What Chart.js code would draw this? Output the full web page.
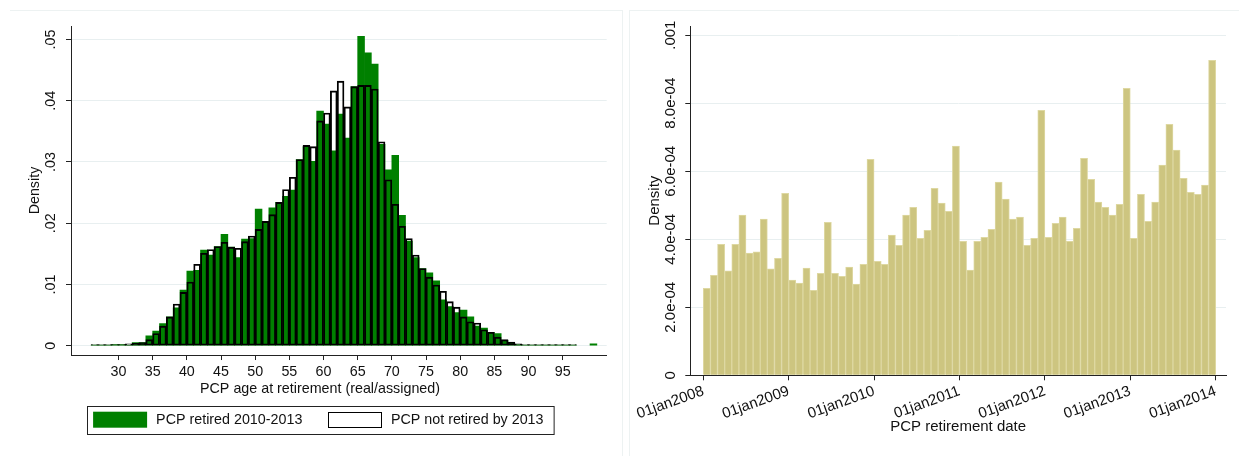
<!DOCTYPE html>
<html>
<head>
<meta charset="utf-8">
<title>PCP retirement histograms</title>
<script src="https://cdn.jsdelivr.net/npm/chart.js@4.4.1/dist/chart.umd.min.js"></script>
<style>
  html, body { margin: 0; padding: 0; background: #fff; }
  #page  { position: relative; width: 1239px; height: 456px; overflow: hidden; }
  .frame { position: absolute; border: 0 solid #edf2f2; }
  #frameL { left: 10px;  top: 10px; width: 612px; height: 460px; border-top-width: 1px; border-right-width: 1px; }
  #frameR { left: 629px; top: 10px; width: 640px; height: 460px; border-top-width: 1px; border-left-width: 1px; }
  .panel { position: absolute; top: 0; height: 456px; }
  #leftPanel  { left: 0;     width: 640px; }
  #rightPanel { left: 622px; width: 617px; }
</style>
</head>
<body>
<div id="page">
  <div class="frame" id="frameL"></div>
  <div class="frame" id="frameR"></div>
  <div class="panel" id="leftPanel"><canvas id="ageChart"></canvas></div>
  <div class="panel" id="rightPanel"><canvas id="dateChart"></canvas></div>
</div>
<script>
/* ---------------- DATA : left panel (age at retirement, 1-year bins) ---------------- */
const ageBins = [26,27,28,29,30,31,32,33,34,35,36,37,38,39,40,41,42,43,44,45,46,47,48,49,
                 50,51,52,53,54,55,56,57,58,59,60,61,62,63,64,65,66,67,68,69,70,71,72,73,
                 74,75,76,77,78,79,80,81,82,83,84,85,86,87,88,89,90,91,92,93,94,95,96,97,98,99];

// PCP retired 2010-2013 (green)
const retiredDensity = [
  .0001,.0001,.0001,.0002,.0002,.0001,.0005,.0005,.0016,.0024,.0036,.0047,.0062,.0091,
  .0122,.0123,.0156,.0148,.0162,.0182,.0161,.0144,.0174,.0175,.0223,.0203,.0225,.0234,
  .0244,.0254,.0304,.0325,.0301,.0383,.0362,.0318,.0378,.0339,.0423,.0505,.0478,.0460,
  .0329,.0287,.0311,.0213,.0171,.0144,.0126,.0119,.0106,.0075,.0064,.0054,.0058,.0047,
  .0032,.0029,.0022,.0020,.0009,.0004,.0002,.0001,.0001,.0001,.0001,.0001,.0001,.0001,
  .0001,null,null,.0003];

// PCP not retired by 2013 (outline only)
const notRetiredDensity = [
  .0002,.0002,.0002,.0002,.0002,.0003,.0004,.0005,.0010,.0020,.0032,.0047,.0068,.0087,
  .0104,.0133,.0151,.0157,.0162,.0169,.0161,.0159,.0170,.0179,.0190,.0203,.0214,.0234,
  .0255,.0275,.0304,.0327,.0325,.0367,.0380,.0416,.0432,.0390,.0423,.0425,.0425,.0419,
  .0333,.0271,.0231,.0195,.0175,.0148,.0126,.0112,.0099,.0089,.0072,.0063,.0047,.0039,
  .0037,.0026,.0022,.0014,.0010,.0006,.0003,.0002,.0002,.0002,.0002,.0002,.0002,.0002,
  .0002,null,null,null];

const ageTicks     = [30,35,40,45,50,55,60,65,70,75,80,85,90,95];
const leftYTicks   = [0, .01, .02, .03, .04, .05];
const leftYLabels  = ["0", ".01", ".02", ".03", ".04", ".05"];

/* ---------------- DATA : right panel (retirement date, monthly bins) ---------------- */
const months = [
  "jan2008","feb2008","mar2008","apr2008","may2008","jun2008","jul2008","aug2008","sep2008","oct2008","nov2008","dec2008",
  "jan2009","feb2009","mar2009","apr2009","may2009","jun2009","jul2009","aug2009","sep2009","oct2009","nov2009","dec2009",
  "jan2010","feb2010","mar2010","apr2010","may2010","jun2010","jul2010","aug2010","sep2010","oct2010","nov2010","dec2010",
  "jan2011","feb2011","mar2011","apr2011","may2011","jun2011","jul2011","aug2011","sep2011","oct2011","nov2011","dec2011",
  "jan2012","feb2012","mar2012","apr2012","may2012","jun2012","jul2012","aug2012","sep2012","oct2012","nov2012","dec2012",
  "jan2013","feb2013","mar2013","apr2013","may2013","jun2013","jul2013","aug2013","sep2013","oct2013","nov2013","dec2013"];

const monthDensity = [
  2.56e-4,2.94e-4,3.85e-4,3.07e-4,3.85e-4,4.71e-4,3.59e-4,3.63e-4,4.59e-4,3.13e-4,3.44e-4,5.35e-4,
  2.80e-4,2.71e-4,3.15e-4,2.50e-4,3.00e-4,4.50e-4,3.00e-4,2.91e-4,3.18e-4,2.68e-4,3.26e-4,6.35e-4,
  3.35e-4,3.26e-4,4.12e-4,3.82e-4,4.71e-4,4.94e-4,4.03e-4,4.26e-4,5.50e-4,5.06e-4,4.82e-4,6.74e-4,
  3.94e-4,3.09e-4,3.94e-4,4.06e-4,4.29e-4,5.68e-4,5.18e-4,4.59e-4,4.65e-4,3.82e-4,4.03e-4,7.79e-4,
  4.06e-4,4.47e-4,4.65e-4,3.94e-4,4.32e-4,6.38e-4,5.76e-4,5.09e-4,4.94e-4,4.71e-4,5.03e-4,8.44e-4,
  4.03e-4,5.32e-4,4.53e-4,5.09e-4,6.18e-4,7.38e-4,6.62e-4,5.79e-4,5.38e-4,5.32e-4,5.59e-4,9.26e-4];

const dateTicks      = [0, 12, 24, 36, 48, 60, 72];   // months since jan2008
const dateTickLabels = ["01jan2008","01jan2009","01jan2010","01jan2011","01jan2012","01jan2013","01jan2014"];
const rightYTicks    = [0, 2e-4, 4e-4, 6e-4, 8e-4, 1e-3];
const rightYLabels   = ["0", "2.0e-04", "4.0e-04", "6.0e-04", "8.0e-04", ".001"];

/* ---------------- STYLE ---------------- */
const FONT   = "'Liberation Sans', Arial, Helvetica, sans-serif";
const INK    = "#111";
const AXIS   = "#222";
const GRID   = "rgb(232,239,240)";
const GREEN  = "#008000";

Chart.defaults.font.family = FONT;
Chart.defaults.color = INK;

/* legend with a frame, drawn under the left panel */
const framedLegend = {
  id: "framedLegend",
  afterDraw(chart) {
    const ctx = chart.ctx;
    const ds  = chart.data.datasets;
    const sw = 54, sh = 16, gapText = 9, gapItem = 25.6, padL = 5.6, padR = 10.6;
    ctx.save();
    ctx.font = `14.3px ${FONT}`;
    const w1 = ctx.measureText(ds[0].label).width;
    const w2 = ctx.measureText(ds[1].label).width;
    const total = padL + sw + gapText + w1 + gapItem + sw + gapText + w2 + padR;
    const left = Math.round(320 - total / 2) + 0.5, top = 406.5, h = 28;

    ctx.strokeStyle = AXIS; ctx.lineWidth = 1;
    ctx.strokeRect(left, top, total, h);

    let x = left + padL;
    const y = top + 5.2;
    ctx.fillStyle = ds[0].backgroundColor;
    ctx.fillRect(x, y, sw, sh);
    x += sw + gapText;
    ctx.fillStyle = INK; ctx.textBaseline = "middle"; ctx.textAlign = "left";
    ctx.fillText(ds[0].label, x, y + sh / 2);
    x += w1 + gapItem;
    ctx.fillStyle = "#fff";
    ctx.fillRect(x, y, sw, sh);
    ctx.strokeStyle = ds[1].borderColor;
    ctx.strokeRect(Math.round(x) + 0.5, Math.round(y) + 0.5, sw - 1, sh - 1);
    x += sw + gapText;
    ctx.fillStyle = INK;
    ctx.fillText(ds[1].label, x, y + sh / 2);
    ctx.restore();
  }
};

/* ---------------- LEFT: age at retirement ---------------- */
new Chart(document.getElementById("ageChart"), {
  type: "bar",
  data: {
    datasets: [
      {
        label: "PCP retired 2010-2013",
        data: ageBins.map((a, i) => ({ x: a + 0.5, y: retiredDensity[i] })),
        backgroundColor: GREEN,
        borderWidth: 0,
        order: 2
      },
      {
        label: "PCP not retired by 2013",
        data: ageBins.map((a, i) => ({ x: a + 0.5, y: notRetiredDensity[i] })),
        backgroundColor: "rgba(255,255,255,0)",
        borderColor: "#000",
        borderWidth: 1.2,
        borderSkipped: false,
        order: 1
      }
    ]
  },
  options: {
    animation: false,
    responsive: true,
    maintainAspectRatio: false,
    datasets: { bar: { grouped: false, barPercentage: 1, categoryPercentage: 1 } },
    layout: { padding: { left: 33.3, right: 33.3, top: 26, bottom: 58.4 } },
    plugins: {
      legend: { display: false },
      tooltip: { enabled: false },
      title: {
        display: true,
        position: "bottom",
        text: "PCP age at retirement (real/assigned)",
        color: INK,
        font: { size: 14.3, weight: "normal" },
        padding: 0
      }
    },
    scales: {
      x: {
        type: "linear",
        offset: false,
        min: 23.05,
        max: 101.44,
        afterBuildTicks: s => { s.ticks = ageTicks.map(v => ({ value: v })); },
        afterFit: s => { s.height = 25.4; },
        ticks: { autoSkip: false, maxRotation: 0, padding: 3, color: INK, font: { size: 14.3 } },
        grid: { offset: false, drawOnChartArea: false, drawTicks: true, tickLength: 5, tickColor: AXIS },
        border: { color: AXIS, width: 1 }
      },
      y: {
        min: -0.00152,
        max: 0.0522,
        afterBuildTicks: s => { s.ticks = leftYTicks.map(v => ({ value: v })); },
        afterFit: s => { s.width = 37.7; },
        ticks: {
          callback: (v, i) => leftYLabels[i],
          minRotation: 90, maxRotation: 90, crossAlign: "center",
          padding: 5, color: INK, font: { size: 14.3 }
        },
        grid: { color: GRID, drawTicks: true, tickLength: 5, tickColor: AXIS },
        border: { color: AXIS, width: 1 },
        title: { display: true, text: "Density", color: INK, font: { size: 14.3 }, padding: { top: -7, bottom: 0 } }
      }
    }
  },
  plugins: [framedLegend]
});

/* ---------------- RIGHT: retirement date ---------------- */
new Chart(document.getElementById("dateChart"), {
  type: "bar",
  data: {
    datasets: [{
      label: "Density",
      data: months.map((m, i) => ({ x: i + 0.5, y: monthDensity[i] })),
      backgroundColor: "rgb(205,197,128)",
      borderColor: "rgb(222,216,162)",
      borderWidth: 1
    }]
  },
  options: {
    animation: false,
    responsive: true,
    maintainAspectRatio: false,
    datasets: { bar: { grouped: false, barPercentage: 1, categoryPercentage: 1 } },
    layout: { padding: { left: 24, right: 13, top: 26, bottom: 0 } },
    plugins: { legend: { display: false }, tooltip: { enabled: false } },
    scales: {
      x: {
        type: "linear",
        offset: false,
        min: -1.827,
        max: 73.45,
        afterBuildTicks: s => { s.ticks = dateTicks.map(v => ({ value: v })); },
        afterFit: s => { s.height = 80.7; },
        ticks: {
          callback: (v, i) => dateTickLabels[i],
          autoSkip: false, minRotation: 20, maxRotation: 20,
          padding: 2, color: INK, font: { size: 15 }
        },
        grid: { offset: false, drawOnChartArea: false, drawTicks: true, tickLength: 5, tickColor: AXIS },
        border: { color: AXIS, width: 1 },
        title: { display: true, text: "PCP retirement date", color: INK, font: { size: 15 }, padding: { top: 0, bottom: 20.5 } }
      },
      y: {
        min: 0,
        max: 0.001027,
        afterBuildTicks: s => { s.ticks = rightYTicks.map(v => ({ value: v })); },
        afterFit: s => { s.width = 44.3; },
        ticks: {
          callback: (v, i) => rightYLabels[i],
          minRotation: 90, maxRotation: 90, crossAlign: "center",
          padding: -10.9, color: INK, font: { size: 15 }
        },
        grid: { color: GRID, drawTicks: true, tickLength: 5, tickColor: AXIS },
        border: { color: AXIS, width: 1 },
        title: { display: true, text: "Density", color: INK, font: { size: 15 }, padding: { top: 0, bottom: 0 } }
      }
    }
  }
});
</script>
</body>
</html>
